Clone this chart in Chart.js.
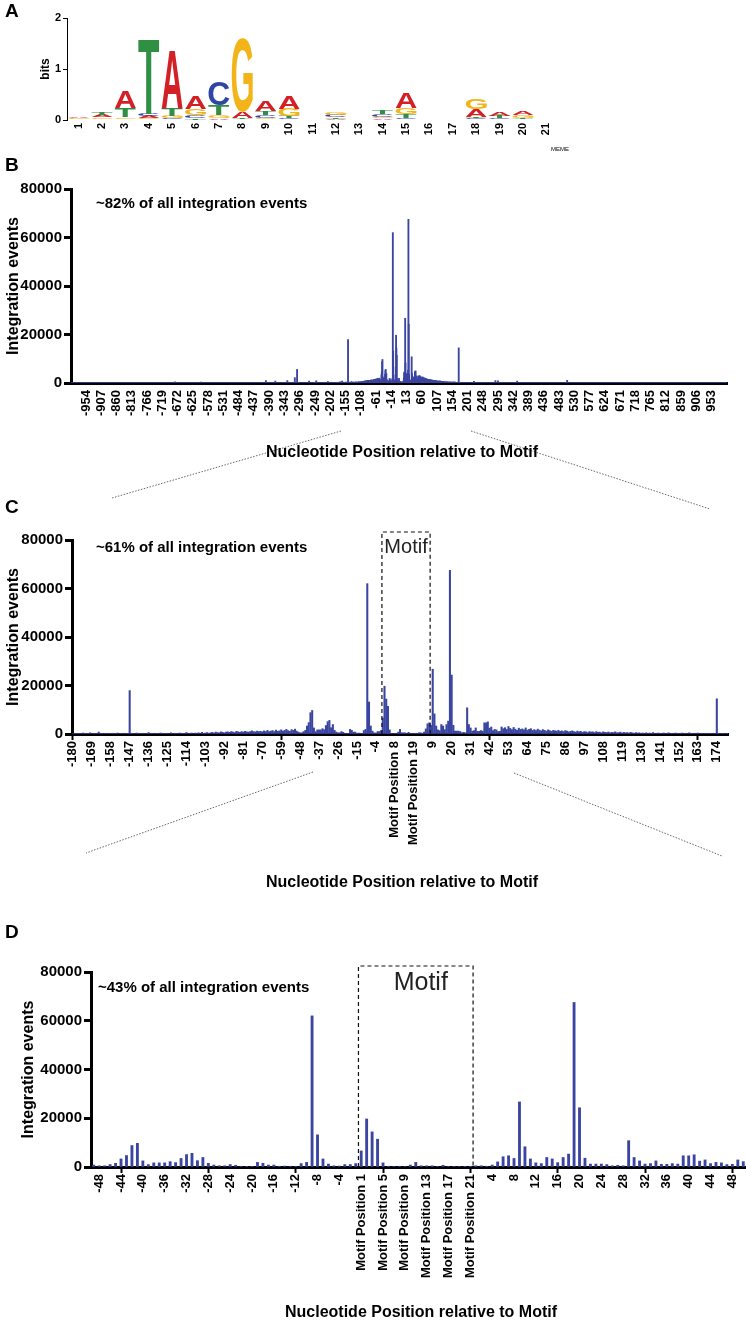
<!DOCTYPE html>
<html>
<head>
<meta charset="utf-8">
<script src="https://cdn.jsdelivr.net/npm/chart.js@4.4.1/dist/chart.umd.min.js"></script>
<style>
  body { margin: 0; background: #fff; }
  #fig { position: relative; width: 746px; height: 1321px; overflow: hidden; font-family: 'Liberation Sans', Arial, sans-serif; color: #000; }
  canvas { position: absolute; left: 0; }
  svg { position: absolute; left: 0; top: 0; }
  .t { position: absolute; line-height: 20px; white-space: nowrap; font-weight: bold; }
  .panel { font-size: 19px; }
  .pct { font-size: 15px; }
  .xt { font-size: 16px; transform: translateX(-50%); }
</style>
</head>
<body>
<div id="fig">
  <canvas id="logo" width="600" height="160" style="top:0"></canvas>
  <canvas id="histB" width="746" height="300" style="top:160px"></canvas>
  <canvas id="histC" width="746" height="420" style="top:470px"></canvas>
  <canvas id="histD" width="746" height="421" style="top:900px"></canvas>

  <svg width="746" height="1321">
    <g stroke="#666" stroke-width="1" stroke-dasharray="1.5 1.5" fill="none">
      <line x1="341" y1="431" x2="112" y2="498"/>
      <line x1="471" y1="431" x2="710" y2="509"/>
      <line x1="313" y1="772" x2="86" y2="853"/>
      <line x1="514" y1="773" x2="722" y2="856"/>
    </g>
  </svg>

  <div class="t panel" style="left:5px;top:1px">A</div>
  <div class="t panel" style="left:5px;top:155px">B</div>
  <div class="t panel" style="left:5px;top:497px">C</div>
  <div class="t panel" style="left:5px;top:922px">D</div>
  <div class="t" style="left:551px;top:139px;font-size:6px;font-weight:normal">MEME</div>

  <div class="t pct" style="left:96px;top:193px">~82% of all integration events</div>
  <div class="t pct" style="left:96px;top:537px">~61% of all integration events</div>
  <div class="t pct" style="left:98px;top:977px">~43% of all integration events</div>

  <div class="t xt" style="left:402px;top:442px">Nucleotide Position relative to Motif</div>
  <div class="t xt" style="left:402px;top:872px">Nucleotide Position relative to Motif</div>
  <div class="t xt" style="left:421px;top:1302px">Nucleotide Position relative to Motif</div>
</div>

<script>
const FONT = "'Liberation Sans', Arial, sans-serif";
const BAR = '#3a45a1';
const LETTER_COLORS = { A: '#d31f26', C: '#3046a5', G: '#f2b418', T: '#2f8f43' };

// --- Panel A: MEME logo, information (bits) per nucleotide at motif positions 1-21
const logoPositions = ['1','2','3','4','5','6','7','8','9','10','11','12','13','14','15','16','17','18','19','20','21'];
const bitsA = [0.03,0.04,0.32,0.04,1.15,0.26,0.04,0.12,0.20,0.25,0.01,0.02,0,0.03,0.30,0.01,0.01,0.16,0.08,0.08,0.01];
const bitsC = [0.01,0.02,0.02,0.05,0.03,0.05,0.45,0.02,0.05,0.03,0.01,0.04,0,0.06,0.03,0.01,0.01,0.03,0.03,0.02,0.01];
const bitsG = [0.02,0.03,0.03,0.03,0.04,0.13,0.05,1.45,0.04,0.14,0.01,0.04,0,0.03,0.13,0.01,0,0.21,0.01,0.05,0.01];
const bitsT = [0.01,0.06,0.18,1.48,0.14,0.04,0.20,0.02,0.08,0.05,0,0.03,0,0.08,0.08,0.01,0,0.03,0.04,0.02,0];

// --- Integration events per position
// -180 .. -50
const cNearLeft = [
  200,100,300,100,100,200,400,100,200,100,
  500,200,100,100,300,800,200,100,200,100,
  300,200,100,100,200,100,400,200,100,300,
  200,100,200,17900,300,100,200,400,100,200,
  100,300,200,100,600,200,100,200,300,100,
  200,400,100,200,100,300,200,500,200,100,
  300,200,400,200,100,300,600,200,300,400,
  200,400,300,500,200,700,300,400,600,300,
  500,700,400,800,600,500,900,700,500,800,
  900,700,1000,800,600,1100,900,700,1000,800,
  1100,900,800,1000,1300,1000,900,1200,1000,1100,
  900,1300,1000,1500,1000,1200,1400,1000,1600,1100,
  1300,1700,1200,1500,1900,1400,1100,1800,1500,2000,
  1200
];
// -49 .. -1
const dLeft = [
  800,500,500,1000,1500,3300,4700,8800,9700,2500,
  1000,1700,1700,1700,2200,1800,3500,5100,5600,2600,
  3900,1500,800,500,500,1000,700,300,100,100,
  1900,1500,800,800,300,400,300,300,1400,1900,
  62000,13200,3300,1200,500,400,1000,1000,1400
];
// Motif Position 1 .. 21
const motifCounts = [6600,19700,14400,11400,1700,300,200,300,200,800,1900,500,500,500,200,700,200,100,200,100,100];
// +1 .. +50
const dRight = [
  500,500,300,800,2100,4200,4600,3500,26700,8300,
  3300,1700,1400,3900,3300,1800,3900,5300,67500,24300,
  3600,1200,1200,1200,1000,500,700,500,10800,3900,
  2500,1200,1400,2500,1100,1100,1400,1200,4600,4600,
  5000,2400,2900,1400,1900,1700,1000,1100,2900,2200
];
// +51 .. +180
const cNearRight = [
  2600,1900,3100,2300,1800,2700,2000,1500,2400,1900,
  2100,1700,2500,1600,1900,2200,1500,1800,1400,2000,
  1600,1300,1800,1500,1200,1700,1400,1100,1500,1300,
  1200,1500,1100,1300,1000,1400,1200,900,1100,1300,
  1000,800,1200,900,1100,700,1000,900,600,1000,
  800,900,600,1000,700,800,500,900,700,600,
  800,500,700,600,900,500,600,800,400,700,
  500,600,400,700,500,300,600,400,500,300,
  400,300,500,200,400,300,600,200,300,400,
  200,300,400,200,300,500,200,300,200,400,
  300,200,300,400,200,300,200,500,300,200,
  300,200,400,200,300,200,300,100,200,300,
  200,300,200,14500,300,200,100,300,200,300
];
// isolated counts outside +-180 (everything else there is ~0)
const bFarSpikes = [[-680,500],[-600,400],[-400,1000],[-371,800],[-334,1000],[-311,2200],[-304,5600],
  [-267,800],[-245,900],[-209,600],[221,700],[287,1000],[295,900],[354,800],[508,1100]];

// --- labelled x ticks per panel
const ticksB = ['-954','-907','-860','-813','-766','-719','-672','-625','-578','-531','-484','-437','-390','-343',
  '-296','-249','-202','-155','-108','-61','-14','13','60','107','154','201','248','295','342','389','436','483',
  '530','577','624','671','718','765','812','859','906','953'];
const ticksC = ['-180','-169','-158','-147','-136','-125','-114','-103','-92','-81','-70','-59','-48','-37','-26',
  '-15','-4','Motif Position 8','Motif Position 19','9','20','31','42','53','64','75','86','97','108','119','130',
  '141','152','163','174'];
const ticksD = ['-48','-44','-40','-36','-32','-28','-24','-20','-16','-12','-8','-4','Motif Position 1',
  'Motif Position 5','Motif Position 9','Motif Position 13','Motif Position 17','Motif Position 21',
  '4','8','12','16','20','24','28','32','36','40','44','48'];

Chart.defaults.font.family = FONT;
Chart.defaults.color = '#000';

const counts = new Map();
bFarSpikes.forEach(([p, v]) => counts.set(String(p), v));
cNearLeft.forEach((v, i) => counts.set(String(-180 + i), v));
dLeft.forEach((v, i) => counts.set(String(-49 + i), v));
motifCounts.forEach((v, i) => counts.set('Motif Position ' + (i + 1), v));
dRight.forEach((v, i) => counts.set(String(1 + i), v));
cNearRight.forEach((v, i) => counts.set(String(51 + i), v));

function windowLabels(nLeft, nRight) {
  const out = [];
  for (let p = -nLeft; p <= -1; p++) out.push(String(p));
  for (let m = 1; m <= 21; m++) out.push('Motif Position ' + m);
  for (let p = 1; p <= nRight; p++) out.push(String(p));
  return out;
}

// dashed motif frame + label drawn over a histogram
const motifBox = {
  id: 'motifBox',
  afterDraw(chart, args, o) {
    if (!o || !o.from) return;
    const x = chart.scales.x, labels = chart.data.labels, ca = chart.chartArea;
    const step = x.getPixelForValue(1) - x.getPixelForValue(0);
    const left = x.getPixelForValue(labels.indexOf(o.from)) - step / 2;
    const right = x.getPixelForValue(labels.indexOf(o.to)) + step / 2;
    const top = ca.top - o.lift;
    const ctx = chart.ctx;
    ctx.save();
    ctx.strokeStyle = '#111';
    ctx.lineWidth = 1.2;
    ctx.setLineDash([4, 3]);
    ctx.beginPath();
    ctx.moveTo(left, ca.bottom);
    ctx.lineTo(left, top);
    ctx.lineTo(right, top);
    ctx.lineTo(right, ca.bottom);
    ctx.stroke();
    ctx.setLineDash([]);
    ctx.fillStyle = '#222';
    ctx.font = o.size + 'px ' + FONT;
    ctx.textAlign = 'center';
    ctx.textBaseline = 'middle';
    ctx.fillText('Motif', (left + right) / 2 + o.dx, top + o.dy);
    ctx.restore();
  }
};

function histogram(id, o) {
  const canvas = document.getElementById(id);
  const W = canvas.width, H = canvas.height;
  const shown = new Set(o.ticks);
  const isShown = c => shown.has(o.labels[c.index]);
  return new Chart(canvas, {
    type: 'bar',
    data: {
      labels: o.labels,
      datasets: [{ data: o.labels.map(l => counts.get(l) || 0), backgroundColor: BAR, borderWidth: 0, barThickness: o.barThickness }]
    },
    options: {
      responsive: false, animation: false, devicePixelRatio: 1,
      layout: { padding: { left: o.padLeft, right: W - o.right, top: o.top, bottom: 0 } },
      plugins: { legend: { display: false }, tooltip: { enabled: false }, motifBox: o.box },
      scales: {
        x: {
          grid: { drawOnChartArea: false, offset: false, tickLength: 6,
                  tickWidth: c => isShown(c) ? 2 : 0, tickColor: c => isShown(c) ? '#000' : 'rgba(0,0,0,0)' },
          border: { width: 3, color: '#000' },
          ticks: { autoSkip: false, minRotation: 90, maxRotation: 90, padding: 1,
                   font: { weight: 'bold', size: 13 },
                   callback(v) { const l = this.getLabelForValue(v); return shown.has(l) ? l : null; } },
          afterFit(s) { s.height = H - o.bottom; s.paddingLeft = 0; s.paddingRight = 0; }
        },
        y: {
          min: 0, max: 80000,
          ticks: { stepSize: 20000, padding: 2, font: { weight: 'bold', size: 15 }, callback: v => String(v) },
          grid: { drawOnChartArea: false, tickLength: 7, tickWidth: 3, tickColor: '#000' },
          border: { width: 3, color: '#000' },
          title: { display: true, text: 'Integration events', padding: 0, font: { weight: 'bold', size: 16 } },
          afterFit(s) { s.width = o.left - o.padLeft; }
        }
      }
    },
    plugins: [motifBox]
  });
}

// --- Panel A logo: letters stacked smallest at bottom
const LETTERS = ['A', 'C', 'G', 'T'];
const bitsBy = { A: bitsA, C: bitsC, G: bitsG, T: bitsT };
const stackOrder = logoPositions.map((_, i) => LETTERS.slice().sort((a, b) => bitsBy[a][i] - bitsBy[b][i]));

function drawGlyph(ctx, ch, left, top, w, h, color) {
  ctx.save();
  ctx.font = 'bold 100px ' + FONT;
  ctx.textAlign = 'left';
  ctx.textBaseline = 'alphabetic';
  const m = ctx.measureText(ch);
  const gw = m.actualBoundingBoxLeft + m.actualBoundingBoxRight;
  const gh = m.actualBoundingBoxAscent + m.actualBoundingBoxDescent;
  ctx.translate(left, top);
  ctx.scale(w / gw, h / gh);
  ctx.fillStyle = color;
  ctx.fillText(ch, m.actualBoundingBoxLeft, m.actualBoundingBoxAscent);
  ctx.restore();
}

const logoLetters = {
  id: 'logoLetters',
  afterDatasetsDraw(chart) {
    chart.data.datasets.forEach((ds, di) => {
      chart.getDatasetMeta(di).data.forEach((bar, i) => {
        const { x, y, base, width } = bar.getProps(['x', 'y', 'base', 'width'], true);
        const h = base - y;
        if (h < 0.4) return;
        drawGlyph(chart.ctx, ds.letters[i], x - width / 2, y, width, h, LETTER_COLORS[ds.letters[i]]);
      });
    });
  }
};

new Chart(document.getElementById('logo'), {
  type: 'bar',
  data: {
    labels: logoPositions,
    datasets: [0, 1, 2, 3].map(r => ({
      data: stackOrder.map((o, i) => bitsBy[o[r]][i]),
      letters: stackOrder.map(o => o[r]),
      backgroundColor: 'rgba(0,0,0,0)', borderWidth: 0,
      barPercentage: 0.9, categoryPercentage: 1
    }))
  },
  options: {
    responsive: false, animation: false, devicePixelRatio: 1,
    layout: { padding: { left: 38, right: 42, top: 18, bottom: 0 } },
    plugins: { legend: { display: false }, tooltip: { enabled: false } },
    scales: {
      x: {
        stacked: true,
        grid: { display: false, drawTicks: false },
        border: { display: false },
        ticks: { minRotation: 90, maxRotation: 90, padding: 3, font: { weight: 'bold', size: 11 } },
        afterFit(s) { s.height = 40; s.paddingLeft = 0; s.paddingRight = 0; }
      },
      y: {
        stacked: true, min: 0, max: 2,
        ticks: { stepSize: 1, padding: 2, font: { weight: 'bold', size: 11 } },
        grid: { drawOnChartArea: false, tickLength: 4, tickWidth: 1, tickColor: '#000' },
        border: { width: 1, color: '#000' },
        title: { display: true, text: 'bits', padding: 0, font: { weight: 'bold', size: 12 } },
        afterFit(s) { s.width = 29; }
      }
    }
  },
  plugins: [logoLetters]
});

// --- Panels B, C, D
histogram('histB', { labels: windowLabels(1000, 1000), ticks: ticksB, padLeft: 4, left: 71, right: 727,
  top: 29, bottom: 223, barThickness: 1.2, box: false });
histogram('histC', { labels: windowLabels(180, 180), ticks: ticksC, padLeft: 4, left: 72, right: 728,
  top: 70, bottom: 264, barThickness: 1.4,
  box: { from: 'Motif Position 1', to: '7', lift: 8, size: 20, dx: 0, dy: 15 } });
histogram('histD', { labels: windowLabels(49, 50), ticks: ticksD, padLeft: 19, left: 91, right: 746,
  top: 72, bottom: 267, barThickness: 2.2,
  box: { from: 'Motif Position 1', to: 'Motif Position 21', lift: 6, size: 25, dx: 5, dy: 17 } });
</script>
</body>
</html>
